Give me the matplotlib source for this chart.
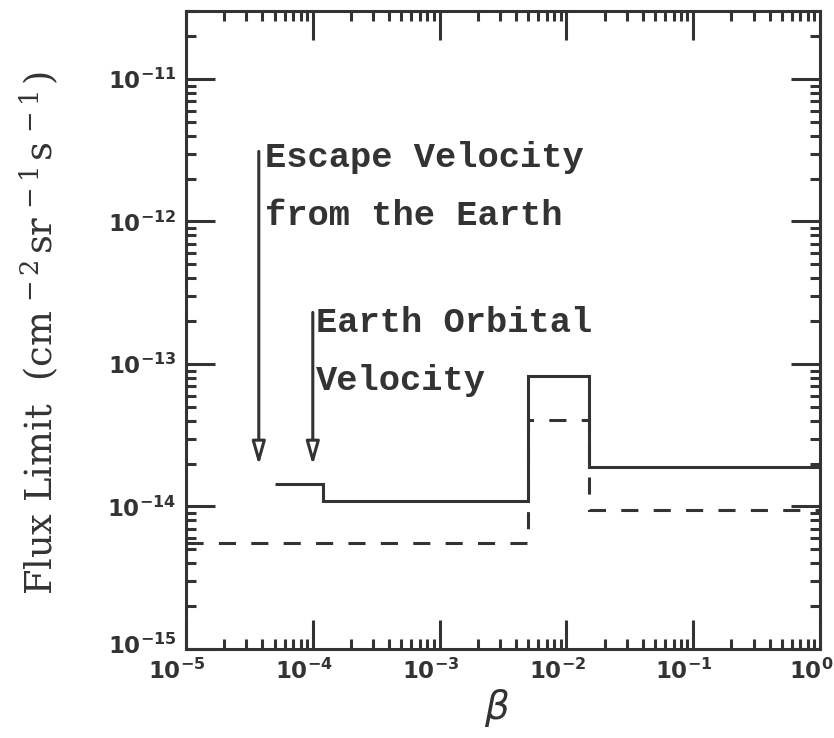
import matplotlib
matplotlib.use("Agg")
import matplotlib.pyplot as plt
from matplotlib.ticker import LogLocator, NullFormatter, FuncFormatter, FixedLocator
from matplotlib.transforms import ScaledTranslation
import numpy as np

# flux limits vs beta (step functions)
solid_edges = [5e-5, 1.2e-4, 5.0e-3, 1.5e-2, 1.0]
solid_vals = [1.45e-14, 1.1e-14, 8.2e-14, 1.9e-14]
dashed_edges = [1e-5, 5.0e-3, 1.5e-2, 1.0]
dashed_vals = [5.5e-15, 4.05e-14, 9.5e-15]

# reference velocities (beta) marked by arrows
escape_beta = 3.75e-5
orbital_beta = 1.0e-4

# major tick decades
x_decades = [-5, -4, -3, -2, -1, 0]
y_decades = [-15, -14, -13, -12, -11]

ink = "#333333"
lw = 2.2

fig = plt.figure(figsize=(8.34, 7.38), dpi=100)
ax = fig.add_axes([186/834, 1 - 649/738, (820-186)/834, (649-11)/738])

ax.stairs(solid_vals, solid_edges, baseline=None, color=ink, lw=lw)
ax.stairs(dashed_vals, dashed_edges, baseline=None, color=ink, lw=lw,
          linestyle=(0, (5.6, 5)))

ax.set_xscale("log")
ax.set_yscale("log")
ax.set_xlim(1e-5, 1.0)
ax.set_ylim(1e-15, 3e-11)

arrow = dict(arrowstyle="-|>,head_length=1.4,head_width=0.4", color=ink,
             lw=lw, fc="white", shrinkA=0, shrinkB=0)
ax.annotate("", xy=(escape_beta, 1.95e-14), xytext=(escape_beta, 3.1e-12),
            arrowprops=arrow)
ax.annotate("", xy=(orbital_beta, 1.95e-14), xytext=(orbital_beta, 2.3e-13),
            arrowprops=arrow)

tfont = dict(family="Liberation Mono", fontsize=25.5, weight="bold",
             color=ink, va="center", ha="left")
ax.text(4.2e-5, 2.8e-12, "Escape Velocity", **tfont)
ax.text(4.2e-5, 1.1e-12, "from the Earth", **tfont)
ax.text(1.06e-4, 1.95e-13, "Earth Orbital", **tfont)
ax.text(1.06e-4, 7.7e-14, "Velocity", **tfont)

for s in ax.spines.values():
    s.set_linewidth(lw)
    s.set_color(ink)

ax.xaxis.set_major_locator(FixedLocator([10.0**d for d in x_decades]))
ax.yaxis.set_major_locator(FixedLocator([10.0**d for d in y_decades]))
ax.xaxis.set_minor_locator(LogLocator(base=10, subs=np.arange(2, 10), numticks=20))
ax.yaxis.set_minor_locator(LogLocator(base=10, subs=np.arange(2, 10), numticks=20))
ax.xaxis.set_minor_formatter(NullFormatter())
ax.yaxis.set_minor_formatter(NullFormatter())
fmt = FuncFormatter(lambda v, p: r"$\mathbf{10^{%d}}$" % round(np.log10(v)))
ax.xaxis.set_major_formatter(fmt)
ax.yaxis.set_major_formatter(fmt)

ax.tick_params(which="both", direction="in", top=True, right=True,
               color=ink, width=lw, labelsize=16.5, labelcolor=ink)
ax.tick_params(which="major", length=21)
ax.tick_params(which="minor", length=7)
ax.tick_params(axis="x", pad=7)
ax.tick_params(axis="y", pad=7)
shift = ScaledTranslation(-9/100, 0, fig.dpi_scale_trans)
for lab in ax.get_xticklabels():
    lab.set_math_fontfamily("dejavusans")
    lab.set_transform(lab.get_transform() + shift)
ylabs = ax.get_yticklabels()
for lab in ylabs:
    lab.set_math_fontfamily("dejavusans")
# lift the bottom y label a little so it clears 10^-5
ylabs[0].set_transform(ylabs[0].get_transform()
                       + ScaledTranslation(0, 5/100, fig.dpi_scale_trans))

ax.set_xlabel(r"$\beta$", fontsize=28, color=ink,
              math_fontfamily="dejavusans")
ax.xaxis.set_label_coords(0.49, -0.06)
ax.set_ylabel(r"Flux Limit  (cm$^{\,-2\,}$sr$^{\,-1\,}$s$^{\,-1\,}$)",
              fontsize=26.5, color=ink, family="DejaVu Serif",
              math_fontfamily="dejavuserif")
ax.yaxis.set_label_coords(-0.197, 0.495)

fig.savefig("out.png", dpi=100)
